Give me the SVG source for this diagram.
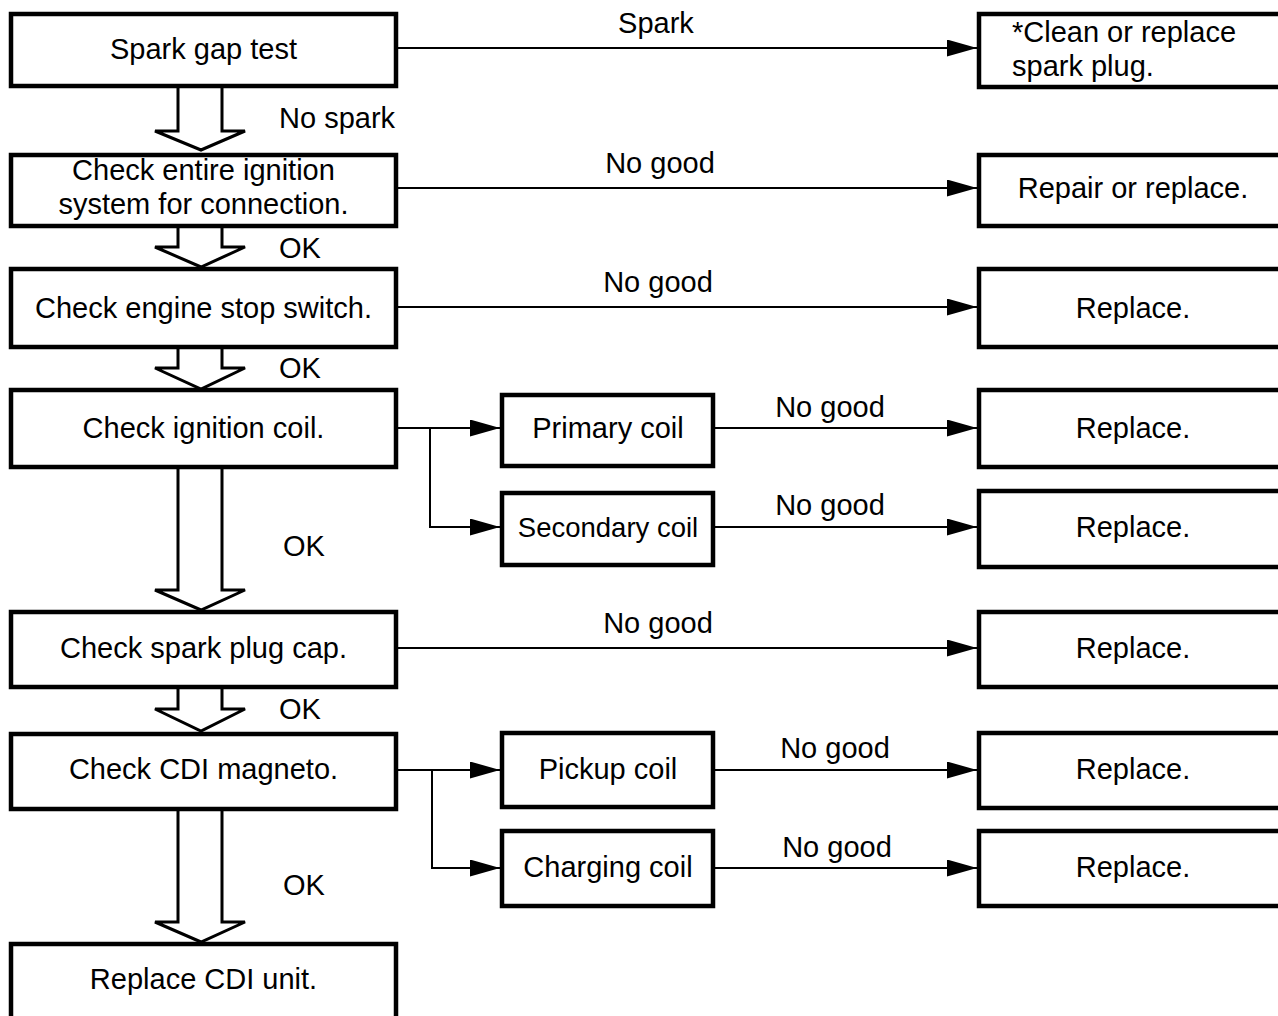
<svg xmlns="http://www.w3.org/2000/svg" width="1278" height="1016" viewBox="0 0 1278 1016">
<style>
.box{fill:#fff;stroke:#000;stroke-width:4.5}
.t{font-family:"Liberation Sans",Arial,sans-serif;font-size:29px;fill:#000}
.c{text-anchor:middle}
.ln{fill:none;stroke:#000;stroke-width:2}
.blk{fill:#fff;stroke:#000;stroke-width:3;stroke-linejoin:miter}
</style>
<defs>
<marker id="ah" markerUnits="userSpaceOnUse" markerWidth="30" markerHeight="17" refX="30" refY="8.5" orient="auto">
<path d="M0,0 L30,8.5 L0,17 z" fill="#000"/>
</marker>
</defs>
<rect width="1278" height="1016" fill="#fff"/>
<g id="connectors">
<path class="blk" d="M178,88 V131 H155 L201,150 L245,131 H222 V88"/>
<path class="blk" d="M178,228 V247 H155 L201,267 L245,247 H222 V228"/>
<path class="blk" d="M178,349 V368 H155 L201,389 L245,368 H222 V349"/>
<path class="blk" d="M178,469 V590 H155 L201,610 L245,590 H222 V469"/>
<path class="blk" d="M178,689 V709 H155 L201,731 L245,709 H222 V689"/>
<path class="blk" d="M178,811 V922 H155 L201,942 L245,922 H222 V811"/>
<line class="ln" x1="398" y1="48" x2="977" y2="48" marker-end="url(#ah)"/>
<line class="ln" x1="398" y1="188" x2="977" y2="188" marker-end="url(#ah)"/>
<line class="ln" x1="398" y1="307" x2="977" y2="307" marker-end="url(#ah)"/>
<line class="ln" x1="398" y1="428" x2="500" y2="428" marker-end="url(#ah)"/>
<path class="ln" d="M430,428 V527 H500" marker-end="url(#ah)"/>
<line class="ln" x1="715" y1="428" x2="977" y2="428" marker-end="url(#ah)"/>
<line class="ln" x1="715" y1="527" x2="977" y2="527" marker-end="url(#ah)"/>
<line class="ln" x1="398" y1="648" x2="977" y2="648" marker-end="url(#ah)"/>
<line class="ln" x1="398" y1="770" x2="500" y2="770" marker-end="url(#ah)"/>
<path class="ln" d="M432,770 V868 H500" marker-end="url(#ah)"/>
<line class="ln" x1="715" y1="770" x2="977" y2="770" marker-end="url(#ah)"/>
<line class="ln" x1="715" y1="868" x2="977" y2="868" marker-end="url(#ah)"/>
<text class="t c" x="656" y="33">Spark</text>
<text class="t c" x="660" y="173">No good</text>
<text class="t c" x="658" y="292">No good</text>
<text class="t c" x="830" y="417">No good</text>
<text class="t c" x="830" y="515">No good</text>
<text class="t c" x="658" y="633">No good</text>
<text class="t c" x="835" y="758">No good</text>
<text class="t c" x="837" y="857">No good</text>
<text class="t" x="279" y="128">No spark</text>
<text class="t" x="279" y="258">OK</text>
<text class="t" x="279" y="378">OK</text>
<text class="t" x="283" y="556">OK</text>
<text class="t" x="279" y="719">OK</text>
<text class="t" x="283" y="895">OK</text>
</g>
<g id="n1"><rect class="box" x="11" y="14" width="385" height="72"/><text class="t c" x="203.5" y="59">Spark gap test</text></g>
<g id="n2"><rect class="box" x="11" y="155" width="385" height="71"/><text class="t c" x="203.5" y="180">Check entire ignition</text><text class="t c" x="203.5" y="214">system for connection.</text></g>
<g id="n3"><rect class="box" x="11" y="269" width="385" height="78"/><text class="t c" x="203.5" y="318">Check engine stop switch.</text></g>
<g id="n4"><rect class="box" x="11" y="390" width="385" height="77"/><text class="t c" x="203.5" y="438">Check ignition coil.</text></g>
<g id="n5"><rect class="box" x="11" y="612" width="385" height="75"/><text class="t c" x="203.5" y="658">Check spark plug cap.</text></g>
<g id="n6"><rect class="box" x="11" y="734" width="385" height="75"/><text class="t c" x="203.5" y="779">Check CDI magneto.</text></g>
<g id="n7"><rect class="box" x="11" y="944" width="385" height="100"/><text class="t c" x="203.5" y="989">Replace CDI unit.</text></g>
<g id="m1"><rect class="box" x="502" y="395" width="211" height="71"/><text class="t c" x="608" y="438">Primary coil</text></g>
<g id="m2"><rect class="box" x="502" y="493" width="211" height="72"/><text class="t c" x="608" y="537" style="font-size:27.5px">Secondary coil</text></g>
<g id="m3"><rect class="box" x="502" y="733" width="211" height="74"/><text class="t c" x="608" y="779">Pickup coil</text></g>
<g id="m4"><rect class="box" x="502" y="831" width="211" height="75"/><text class="t c" x="608" y="877">Charging coil</text></g>
<g id="r1"><rect class="box" x="979" y="14" width="320" height="73"/><text class="t" x="1012" y="42">*Clean or replace</text><text class="t" x="1012" y="76">spark plug.</text></g>
<g id="r2"><rect class="box" x="979" y="155" width="320" height="71"/><text class="t c" x="1133" y="198">Repair or replace.</text></g>
<g id="r3"><rect class="box" x="979" y="269" width="320" height="78"/><text class="t c" x="1133" y="318">Replace.</text></g>
<g id="r4"><rect class="box" x="979" y="390" width="320" height="77"/><text class="t c" x="1133" y="438">Replace.</text></g>
<g id="r5"><rect class="box" x="979" y="491" width="320" height="76"/><text class="t c" x="1133" y="537">Replace.</text></g>
<g id="r6"><rect class="box" x="979" y="612" width="320" height="75"/><text class="t c" x="1133" y="658">Replace.</text></g>
<g id="r7"><rect class="box" x="979" y="733" width="320" height="75"/><text class="t c" x="1133" y="779">Replace.</text></g>
<g id="r8"><rect class="box" x="979" y="831" width="320" height="75"/><text class="t c" x="1133" y="877">Replace.</text></g>
</svg>
